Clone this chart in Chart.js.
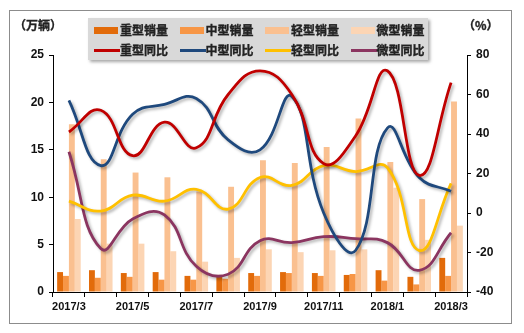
<!DOCTYPE html>
<html>
<head>
<meta charset="utf-8">
<script src="https://cdn.jsdelivr.net/npm/chart.js@4"></script>
<style>
  html, body { margin: 0; padding: 0; background: #fff; }
  #wrap { position: relative; width: 524px; height: 333px; overflow: hidden; }
  #frame { position: absolute; left: 9px; top: 10px; width: 501px; height: 312px; border: 1px solid #8c8c8c; }
  #chart { position: absolute; left: 0; top: 0; }
  .unit { position: absolute; top: 16px; font: bold 12px "Noto Sans CJK SC", sans-serif; color: #222;
          -webkit-text-stroke: 0.35px #222; }
  #legend { position: absolute; left: 88px; top: 18px; width: 340px; height: 42px; background: #d9d9d9;
            box-shadow: 2px 2px 3px rgba(0,0,0,0.35); }
  .item { position: absolute; height: 16px; font: bold 12px "Noto Sans CJK SC", sans-serif; color: #222;
          line-height: 16px; white-space: nowrap; -webkit-text-stroke: 0.35px #222; }
  .item i { position: absolute; left: 0; display: block; }
  .item span { position: absolute; left: 26px; top: 0; }
</style>
</head>
<body>
<div id="wrap">
  <div id="frame"></div>
  <canvas id="chart" width="524" height="333"></canvas>
  <div class="unit" style="left:14px">（万辆）</div>
  <div class="unit" style="left:463px">（%）</div>
  <div id="legend"></div>
</div>
<script>
// 月份
const months = ['2017/3', '2017/4', '2017/5', '2017/6', '2017/7', '2017/8', '2017/9',
                '2017/10', '2017/11', '2017/12', '2018/1', '2018/2', '2018/3'];

// 销量（万辆）
const heavySales  = [2.1, 2.3, 2.0, 2.1, 1.7, 1.8, 2.0, 2.1, 2.0, 1.8, 2.3, 1.6, 3.6];
const mediumSales = [1.7, 1.5, 1.6, 1.3, 1.3, 1.4, 1.7, 2.0, 1.7, 1.9, 1.2, 0.8, 1.7];
const lightSales  = [17.7, 14.0, 12.6, 12.1, 10.6, 11.1, 13.9, 13.6, 15.3, 18.3, 13.7, 9.8, 20.1];
const miniSales   = [7.7, 5.1, 5.1, 4.3, 3.2, 3.6, 4.5, 4.2, 4.4, 4.5, 11.0, 5.5, 7.0];

// 同比（%）
const heavyYoY  = [41, 52, 29, 46, 33, 60, 72, 60, 25, 39, 72, 19, 66];
const mediumYoY = [57, 24, 50, 55, 58, 37, 32, 59, 0, -19, 43, 18, 11];
const lightYoY  = [6, 1, 9, 6, 12, 2, 18, 14, 24, 21, 23, -19, 15];
const miniYoY   = [31, -18, -3, -1, -27, -31, -14, -15, -12, -13, -15, -29, -10];

const axisFont = { family: 'Liberation Sans', weight: 'bold', size: 12 };

function bar(label, data, color) {
  return { type: 'bar', label: label, data: data, backgroundColor: color, yAxisID: 'y', order: 2,
           categoryPercentage: 0.74, barPercentage: 1.0 };
}
function line(label, data, color) {
  return { type: 'line', label: label, data: data, borderColor: color, backgroundColor: color,
           yAxisID: 'y1', order: 1, borderWidth: 2.8, pointRadius: 0, tension: 0.45, fill: false };
}

const datasets = [
  bar('重型销量', heavySales, '#e26b0a'),
  bar('中型销量', mediumSales, '#f79646'),
  bar('轻型销量', lightSales, '#fac090'),
  bar('微型销量', miniSales, '#fcd5b4'),
  line('重型同比', heavyYoY, '#c00000'),
  line('中型同比', mediumYoY, '#1f497d'),
  line('轻型同比', lightYoY, '#ffc000'),
  line('微型同比', miniYoY, '#8b3560')
];

// 折线阴影
const lineShadow = {
  id: 'lineShadow',
  beforeDatasetDraw(chart, args) {
    if (args.meta.type !== 'line') return;
    const ctx = chart.ctx;
    ctx.save();
    ctx.shadowColor = 'rgba(0,0,0,0.3)';
    ctx.shadowBlur = 3;
    ctx.shadowOffsetX = 2;
    ctx.shadowOffsetY = 2;
  },
  afterDatasetDraw(chart, args) {
    if (args.meta.type !== 'line') return;
    chart.ctx.restore();
  }
};

new Chart(document.getElementById('chart'), {
  data: { labels: months, datasets: datasets },
  options: {
    responsive: false,
    animation: false,
    layout: { padding: { top: 55, left: 0, right: 0, bottom: 0 } },
    plugins: { legend: { display: false }, tooltip: { enabled: false } },
    scales: {
      x: {
        offset: true,
        grid: { offset: true, drawOnChartArea: false, tickLength: 5, color: '#000' },
        border: { color: '#000' },
        ticks: {
          autoSkip: false, maxRotation: 0, padding: 3, color: '#111',
          font: { family: 'Liberation Sans', weight: 'bold', size: 11 },
          callback: function (v, i) { return i % 2 === 0 ? months[i] : ''; }
        },
        afterFit: function (s) { s.height = 41; }
      },
      y: {
        position: 'left', min: 0, max: 25,
        grid: { drawOnChartArea: false, tickLength: 4, color: '#000' },
        border: { color: '#000' },
        ticks: { stepSize: 5, padding: 5, color: '#111', font: axisFont },
        afterFit: function (s) { s.width = 53; }
      },
      y1: {
        position: 'right', min: -40, max: 80,
        grid: { drawOnChartArea: false, tickLength: 4, color: '#000' },
        border: { color: '#000' },
        ticks: { stepSize: 20, padding: 5, color: '#111', font: axisFont },
        afterFit: function (s) { s.width = 57; }
      }
    }
  },
  plugins: [lineShadow]
});

// 图例
const legend = document.getElementById('legend');
datasets.forEach(function (ds, i) {
  const col = i % 4, row = Math.floor(i / 4);
  const item = document.createElement('div');
  item.className = 'item';
  item.style.left = (6 + col * 85.5) + 'px';
  item.style.top = (4 + row * 20) + 'px';
  const sw = document.createElement('i');
  if (ds.type === 'bar') {
    sw.style.cssText = 'top:5px;width:24px;height:7px;background:' + ds.backgroundColor;
  } else {
    sw.style.cssText = 'top:7px;width:26px;height:3px;background:' + ds.borderColor;
  }
  const txt = document.createElement('span');
  txt.textContent = ds.label;
  item.appendChild(sw);
  item.appendChild(txt);
  legend.appendChild(item);
});
</script>
</body>
</html>
